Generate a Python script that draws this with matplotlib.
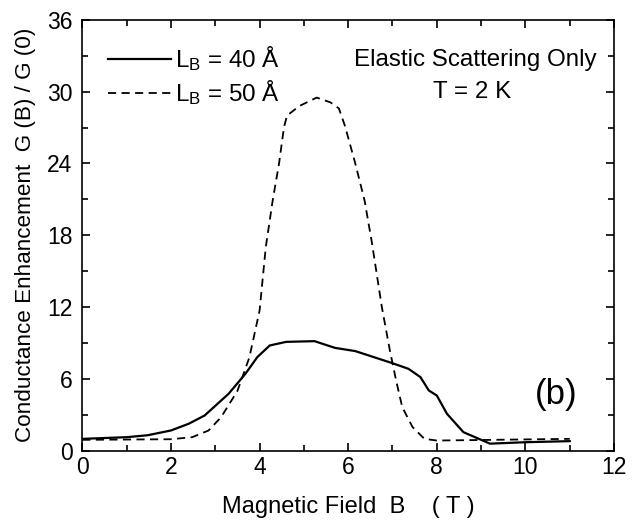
import numpy as np
import matplotlib
matplotlib.use("Agg")
import matplotlib.pyplot as plt
from matplotlib.ticker import MultipleLocator

plt.rcParams["font.family"] = ["Liberation Sans", "DejaVu Sans"]
plt.rcParams["mathtext.default"] = "regular"

# L_B = 40 A (solid)
b40 = [0.0, 1.0, 1.47, 2.0, 2.4, 2.76, 3.3, 3.68, 3.95, 4.23, 4.6, 5.24,
       5.7, 6.16, 6.99, 7.36, 7.63, 7.82, 8.0, 8.23, 8.6, 9.0, 9.2, 10.0, 11.0]
g40 = [1.0, 1.14, 1.3, 1.7, 2.26, 2.95, 4.76, 6.43, 7.83, 8.8, 9.1, 9.16,
       8.6, 8.33, 7.33, 6.85, 6.16, 5.04, 4.62, 3.09, 1.56, 0.92, 0.6, 0.72, 0.81]

# L_B = 50 A (dashed)
b50 = [0.0, 2.0, 2.48, 2.85, 3.13, 3.5, 3.77, 4.0, 4.14, 4.3, 4.44, 4.55,
       4.62, 4.9, 5.29, 5.6, 5.79, 5.93, 6.16, 6.37, 6.53, 6.76, 6.94, 7.08,
       7.22, 7.45, 7.72, 8.0, 11.0]
g50 = [0.92, 0.97, 1.14, 1.7, 2.8, 5.0, 7.8, 11.7, 17.0, 21.0, 24.0, 27.0,
       28.0, 28.8, 29.5, 29.1, 28.6, 27.1, 24.0, 20.9, 17.5, 12.0, 8.4, 5.9,
       3.65, 2.0, 1.0, 0.86, 1.0]

fig = plt.figure(figsize=(6.43, 5.2), dpi=100)
ax = fig.add_axes([0.128, 0.133, 0.827, 0.829])

ax.plot(b40, g40, color="black", linewidth=1.6,
        label=r"L$_{B}$ = 40 Å")
ax.plot(b50, g50, color="black", linewidth=1.3, linestyle=(0, (4.5, 3)),
        label=r"L$_{B}$ = 50 Å")

ax.set_xlim(0, 12)
ax.set_ylim(0, 36)
ax.xaxis.set_major_locator(MultipleLocator(2))
ax.xaxis.set_minor_locator(MultipleLocator(1))
ax.yaxis.set_major_locator(MultipleLocator(6))
ax.yaxis.set_minor_locator(MultipleLocator(3))
ax.tick_params(which="both", direction="in", top=True, right=True,
               width=1.2, labelsize=16.5)
ax.tick_params(which="major", length=6)
ax.tick_params(which="minor", length=4)
ax.tick_params(axis="x", which="major", pad=4)
ax.tick_params(axis="y", which="major", pad=7)
for sp in ax.spines.values():
    sp.set_linewidth(1.2)

ax.set_xlabel("Magnetic Field  B    ( T )", fontsize=17, labelpad=12)
ax.set_ylabel("Conductance Enhancement  G (B) / G (0)", fontsize=16.2,
              labelpad=8)

ax.legend(loc="upper left", bbox_to_anchor=(0.031, 0.965), frameon=False,
          fontsize=17.4, handlelength=2.6, handletextpad=0.15,
          labelspacing=0.2, borderaxespad=0)

ax.text(8.86, 32.1, "Elastic Scattering Only", fontsize=17.4,
        ha="center", va="baseline")
ax.text(8.8, 29.45, "T = 2 K", fontsize=17.4, ha="center", va="baseline")
ax.text(10.69, 4.7, "(b)", fontsize=25, ha="center", va="center")

fig.savefig("out.png", dpi=100)
